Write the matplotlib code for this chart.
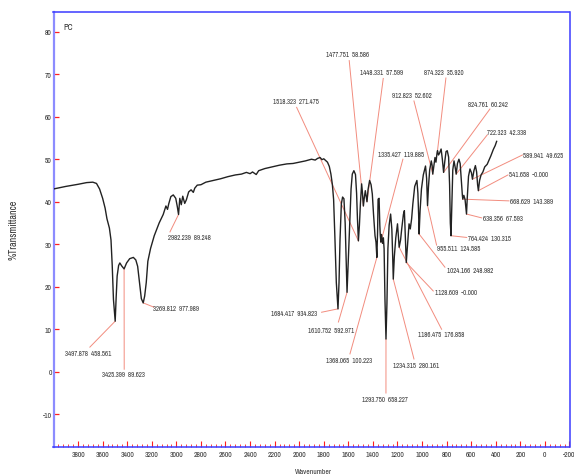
import matplotlib
matplotlib.use("Agg")
import matplotlib.pyplot as plt
from matplotlib.ticker import MultipleLocator, FixedLocator

# ---- spectrum (wavenumber in cm-1, %T) ----
wavenumber = [
    4000, 3900, 3800, 3730, 3680, 3650, 3625, 3600, 3580, 3565, 3545, 3532, 3522, 3512,
    3497.878, 3490, 3482, 3470, 3460, 3445, 3425.399, 3405, 3380, 3350, 3330, 3315, 3300,
    3285, 3269.812, 3258, 3245, 3232, 3210, 3180, 3140, 3107, 3085, 3072, 3062, 3045, 3025,
    3005, 2992, 2982.239, 2972, 2960, 2948, 2932, 2918, 2900, 2880, 2862, 2850, 2830, 2800,
    2760, 2700, 2640, 2580, 2520, 2470, 2430, 2400, 2380, 2350, 2330, 2280, 2220, 2160,
    2100, 2050, 2000, 1950, 1900, 1870, 1850, 1830, 1815, 1800, 1785, 1770, 1755, 1742,
    1730, 1720, 1710, 1698, 1684.417, 1676, 1668, 1657, 1647, 1636, 1626, 1617, 1610.752,
    1602, 1590, 1578, 1568, 1555, 1542, 1533, 1526, 1518.323, 1510, 1502, 1492, 1485,
    1477.751, 1470, 1462, 1455, 1448.331, 1440, 1427, 1415, 1405, 1395, 1383, 1375,
    1368.065, 1362, 1358, 1350, 1344, 1340, 1335.427, 1330, 1322, 1315, 1309, 1302,
    1293.750, 1286, 1278, 1268, 1256, 1246, 1240, 1234.315, 1226, 1214, 1200, 1192,
    1186.475, 1175, 1165, 1152, 1144, 1136, 1128.609, 1118, 1106, 1096, 1085, 1075, 1060,
    1042, 1034, 1028, 1024.166, 1016, 1005, 990, 972, 963, 955.511, 948, 938, 925, 918,
    912.823, 905, 895, 887, 878, 874.323, 866, 858, 845, 835, 824.761, 815, 805, 795, 784,
    776, 770, 764.424, 758, 750, 740, 730, 722.323, 712, 700, 690, 682, 672, 668.629, 660,
    650, 643, 638.356, 632, 622, 610, 598, 589.941, 578, 566, 556, 548, 541.658, 532, 520,
    505, 490, 470, 455, 440, 420, 405, 393,
]
transmittance = [
    43.0, 43.6, 44.1, 44.5, 44.6, 44.3, 43.0, 40.8, 38.5, 36.0, 33.8, 31.0, 25.0, 17.0,
    11.9, 17.5, 22.5, 25.0, 25.6, 24.9, 24.2, 25.6, 26.6, 26.9, 26.3, 24.8, 21.0,
    17.2, 16.2, 17.8, 21.0, 26.0, 29.0, 32.0, 35.0, 37.0, 39.0, 38.2, 39.5, 41.2, 41.6,
    40.8, 38.8, 37.0, 40.8, 39.3, 41.3, 39.6, 40.5, 42.3, 42.8, 42.2, 43.2, 43.9, 44.0,
    44.6, 45.0, 45.4, 45.9, 46.3, 46.5, 46.9, 46.6, 47.0, 46.4, 47.3, 47.8, 48.2, 48.6,
    48.9, 49.0, 49.3, 49.6, 50.0, 49.8, 50.2, 50.4, 49.9, 50.1, 49.7, 49.3, 48.3, 46.5,
    44.0, 40.5, 32.0, 21.0, 14.8, 21.0, 31.0, 39.5, 41.1, 40.7, 35.0, 25.0, 18.7,
    25.0, 34.0, 43.0, 46.5, 47.3, 46.4, 42.0, 36.0, 30.8, 34.5, 39.5, 44.2, 42.0,
    39.0, 41.0, 42.6, 41.2, 40.0, 42.8, 45.0, 44.0, 41.8, 37.0, 32.0, 30.5,
    26.9, 33.0, 40.6, 40.8, 34.5, 32.0, 30.5, 32.3, 30.2, 31.5, 28.9, 17.0,
    7.7, 16.0, 29.0, 34.5, 37.1, 33.5, 28.0, 21.8, 27.0, 31.5, 34.8, 31.5,
    29.3, 31.0, 33.8, 37.0, 37.9, 31.5, 25.7, 30.0, 34.8, 33.6, 36.0, 39.5, 43.6,
    45.0, 42.0, 37.0, 32.4, 38.0, 43.0, 46.3, 48.4, 45.5, 39.1, 43.5, 47.5, 49.6, 48.5,
    46.5, 48.2, 50.4, 49.3, 51.5, 52.0, 51.0, 51.4, 52.4, 50.0, 46.9, 49.5, 51.8, 52.0, 50.5,
    44.0, 35.0, 32.0, 39.0, 47.5, 49.6, 48.0, 46.5, 49.0, 50.0, 49.0, 45.5, 41.5, 40.6, 41.5,
    40.5, 38.5, 37.1, 41.0, 46.0, 47.7, 46.8, 45.3, 47.3, 48.5, 47.0, 44.0, 42.6, 45.0, 46.3,
    47.0, 48.2, 48.8, 49.8, 50.8, 52.3, 53.2, 54.2,
]

# ---- picked peaks: position, %T on the trace, second reported value ----
peak_wn = [3497.878, 3425.399, 3269.812, 2982.239, 1684.417, 1610.752, 1518.323,
           1477.751, 1448.331, 1368.065, 1335.427, 1293.750, 1234.315, 1186.475,
           1128.609, 1024.166, 955.511, 912.823, 874.323, 824.761, 764.424, 722.323,
           668.629, 638.356, 589.941, 541.658]
peak_t = [11.9, 24.2, 16.2, 37.0, 14.8, 18.7, 30.8, 39.0, 40.0, 26.9, 30.5, 7.7,
          21.8, 29.3, 25.7, 32.4, 39.1, 46.5, 52.0, 46.9, 32.0, 46.5, 40.6, 37.1,
          45.3, 42.6]
peak_val = [458.561, 89.623, 977.989, 89.248, 934.823, 592.971, 271.475, 58.586,
            57.599, 100.223, 119.885, 658.227, 280.161, 176.858, -0.0, 248.982,
            124.585, 52.602, 35.920, 60.242, 130.315, 42.338, 143.389, 67.593,
            49.625, -0.0]

# label placement: text left edge / centre (x, y) and leader end (x, y), in data units
label_xy = [(3907, 4.3), (3608, -0.5), (3188, 14.9), (3066, 31.6), (2233, 13.8),
            (1927, 9.9), (2216, 63.8), (1783, 74.8), (1506, 70.6), (1783, 2.8),
            (1362, 51.2), (1492, -6.4), (1240, 1.6), (1036, 8.9), (895, 18.7),
            (800, 24.0), (882, 29.1), (1243, 65.1), (985, 70.6), (624, 63.0),
            (624, 31.5), (470, 56.3), (285, 40.2), (502, 36.1), (179, 51.0), (293, 46.5)]
leader_end = [(3704, 5.8), (3424.5, 0.6), (3183, 15.2), (3052, 32.9), (1818, 14.0),
              (1681, 11.7), (2021, 62.2), (1593, 73.2), (1316, 69.0), (1587, 4.2),
              (1156, 50.0), (1294, -5.0), (1066, 3.0), (841, 10.0), (909, 19.0),
              (814, 24.6), (882, 29.8), (1066, 63.7), (806, 69.1), (448, 61.8),
              (637, 31.6), (470, 55.7), (293, 40.2), (515, 36.2), (183, 51.0), (301, 46.3)]

x_major = list(range(3800, -201, -200))
y_major = list(range(-10, 81, 10))

plt.rcParams["font.family"] = ["Archivo Narrow", "DejaVu Sans"]
TXT = "#333333"

fig = plt.figure(figsize=(5.74, 4.77), dpi=100)
ax = fig.add_axes([53.5 / 574, 29 / 477, 516 / 574, 435.5 / 477])

ax.plot(wavenumber, transmittance, color="#222222", lw=1.0, zorder=3)

for wn, t, val, (lx, ly), (ex, ey) in zip(peak_wn, peak_t, peak_val, label_xy, leader_end):
    ax.plot([wn, ex], [t, ey], color="#f28c7e", lw=0.7, zorder=2)
    ax.text(lx, ly, f"{wn:.3f}  {val:.3f}", fontsize=4.9, color=TXT,
            ha="left", va="center", zorder=4)

ax.text(3920, 81.2, "PC", fontsize=6, color=TXT, ha="left", va="center")

ax.set_xlim(4000, -200)
ax.set_ylim(-17.7, 84.75)

ax.xaxis.set_major_locator(FixedLocator(x_major))
ax.xaxis.set_minor_locator(MultipleLocator(40))
ax.yaxis.set_major_locator(FixedLocator(y_major))
ax.set_xticklabels([str(v) for v in x_major])
ax.set_yticklabels([str(v) for v in y_major])

ax.tick_params(axis="x", which="major", direction="in", length=4.5, width=0.8,
               color="#ff2020", labelsize=5.5, labelcolor=TXT, pad=3)
ax.tick_params(axis="x", which="minor", direction="in", length=2.5, width=0.7,
               color="#ff4040")
ax.tick_params(axis="y", which="major", direction="in", length=3.5, width=0.9,
               color="#ff2020", labelsize=5.5, labelcolor=TXT, pad=1.2)

ax.spines["left"].set_color("#8c8cff")
ax.spines["left"].set_linewidth(1.6)
for side in ("top", "right", "bottom"):
    ax.spines[side].set_color("#3a3aff")
    ax.spines[side].set_linewidth(1.1)

fig.text(13.5 / 574, 1 - 230 / 477, "%Transmittance", rotation=90, fontsize=7.2,
         color=TXT, ha="center", va="center")
fig.text(313 / 574, 1 - 472 / 477, "Wavenumber", fontsize=5.4, color=TXT,
         ha="center", va="center")

fig.savefig("out.png", dpi=100)
